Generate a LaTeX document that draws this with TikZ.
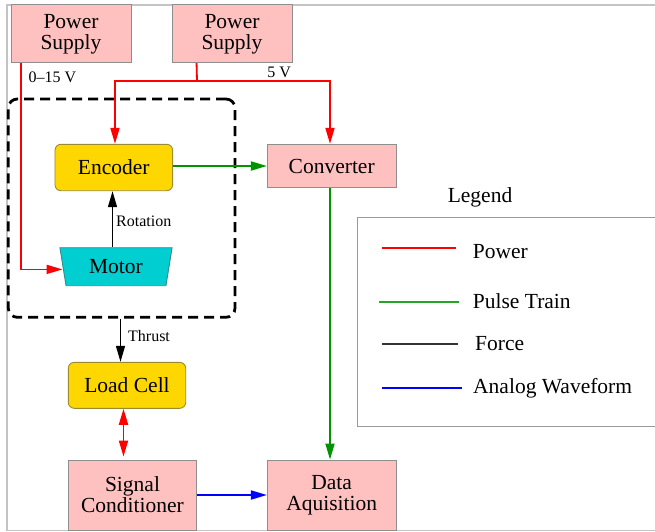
\documentclass[tikz,border=0pt]{standalone}
\usepackage{fontspec}
\setmainfont{Liberation Serif}
\usetikzlibrary{arrows.meta,shapes.geometric}
\definecolor{pinkfill}{HTML}{FFC0C0}
\definecolor{goldfill}{HTML}{FFD700}
\definecolor{goldedge}{HTML}{9C8A30}
\definecolor{cyanfill}{HTML}{00CED1}
\definecolor{cyanedge}{HTML}{3A8A8C}
\definecolor{pgreen}{HTML}{009400}
\definecolor{framegray}{HTML}{C4C4C4}
\definecolor{boxedge}{HTML}{8E8E8E}
\definecolor{legendedge}{HTML}{9A9A9A}
\begin{document}
\begin{tikzpicture}[x=1pt,y=-1pt,
  bigtext/.style={font=\fontsize{21.5}{21}\selectfont, align=center},
  smalltext/.style={font=\fontsize{16}{18}\selectfont, inner sep=0pt},
  pinkbox/.style={bigtext, draw=boxedge, fill=pinkfill, line width=0.9pt, inner sep=0pt},
  goldbox/.style={bigtext, draw=goldedge, fill=goldfill, rounded corners=6pt, line width=0.9pt, inner sep=0pt},
  motorbox/.style={bigtext, trapezium, shape border rotate=180, trapezium left angle=77,
     trapezium right angle=77, trapezium stretches=true, draw=cyanedge, fill=cyanfill,
     line width=0.9pt, inner sep=0pt, minimum width=112.7pt, minimum height=38pt},
  groupbox/.style={draw=black, line width=2.8pt, dash pattern=on 10pt off 6pt, rounded corners=9pt, inner sep=0pt},
  tip/.style={-{Triangle[length=16pt,width=9pt]}},
  pwr/.style={draw=red, line width=1.8pt},
  pulse/.style={draw=pgreen, line width=1.8pt},
  force/.style={draw=black, line width=1.3pt},
  analog/.style={draw=blue, line width=1.8pt},
  legline/.style={line width=1.8pt}
]
\useasboundingbox (0,0) rectangle (655,532);
\clip (0,0) rectangle (655,532);

% outer frame
\draw[framegray, line width=1.3pt] (670,5) -- (7,5) -- (7,530.5) -- (670,530.5);

% nodes
\node[pinkbox, minimum width=120pt, minimum height=57.7pt] (ps1) at (71,33.8) {Power\\Supply};
\node[pinkbox, minimum width=120pt, minimum height=57.7pt] (ps2) at (232,33.8) {Power\\Supply};
\node[groupbox, minimum width=226.7pt, minimum height=218.3pt] (group) at (121.65,208.15) {};
\node[goldbox, minimum width=117.7pt, minimum height=46.4pt] (enc) at (113.8,167.5) {Encoder};
\node[pinkbox, minimum width=128.7pt, minimum height=43.4pt] (conv) at (331.7,166) {Converter};
\node[motorbox] (motor) at (116,266.7) {Motor};
\node[goldbox, minimum width=117.4pt, minimum height=46pt] (load) at (127,385.3) {Load Cell};
\node[pinkbox, minimum width=128.4pt, minimum height=70pt] (sc) at (132.5,495) {Signal\\Conditioner};
\node[pinkbox, minimum width=128.7pt, minimum height=70pt] (da) at (331.7,495) {Data\\Aquisition};

% labels
\node[smalltext] (l015) at (52.3,77.5) {0–15 V};
\node[smalltext] (l5) at (279.2,72) {5 V};

% power connectors
\coordinate (j) at (197,81);
\draw[pwr, tip] ([xshift=10.5pt]ps1.south west) |- ([yshift=-2.7pt]motor.west);
\draw[pwr] ([xshift=25pt]ps2.south west) -- (j);
\draw[pwr, tip] (j) -| ([xshift=1.2pt]enc.north);
\draw[pwr, tip] (j) -| ([xshift=-1.7pt]conv.north);

% pulse
\draw[pulse, tip] ([yshift=1.5pt]enc.east) -- ([yshift=1.5pt]enc.east -| conv.west);
\draw[pulse, tip] ([xshift=-1.7pt]conv.south) -- ([xshift=-1.7pt]conv.south |- da.north);

% force
\draw[force, tip] ([xshift=-3.5pt]motor.north) -- ([xshift=-3.5pt]motor.north |- enc.south)
  node[smalltext, pos=0.47, right=3pt] (lrot) {Rotation};
\draw[force, tip] ([xshift=-1.15pt]group.south) -- ([xshift=-1.15pt]group.south |- load.north)
  node[smalltext, pos=0.4, right=7pt] (lthr) {Thrust};

% load cell <-> signal conditioner
\draw[pwr, {Triangle[length=16pt,width=9pt]}-{Triangle[length=16pt,width=9pt]}, shorten >=3pt]
  ([xshift=-3.5pt]load.south) -- ([xshift=-3.5pt]load.south |- sc.north);

% analog
\draw[analog, tip] (sc.east) -- (sc.east -| da.west);

% legend
\node[bigtext] (legtitle) at (480,197.7) {Legend};
\draw[legendedge, line width=1pt] (357.3,217.7) rectangle (680,426.7);
\draw[legline, red] (381.7,248) -- (456,248);
\node[bigtext, anchor=west, inner sep=0pt] (legpow) at (472.7,251.7) {Power};
\draw[legline, pgreen!85!white] (379,302) -- (458.7,302);
\node[bigtext, anchor=west, inner sep=0pt] (legpul) at (472.7,300.7) {Pulse Train};
\draw[legline, black!80] (382,344) -- (458,344);
\node[bigtext, anchor=west, inner sep=0pt] (legfor) at (475,344) {Force};
\draw[legline, blue] (382,388) -- (461.7,388);
\node[bigtext, anchor=west, inner sep=0pt] (legana) at (473,388) {Analog Waveform};
\end{tikzpicture}
\end{document}
